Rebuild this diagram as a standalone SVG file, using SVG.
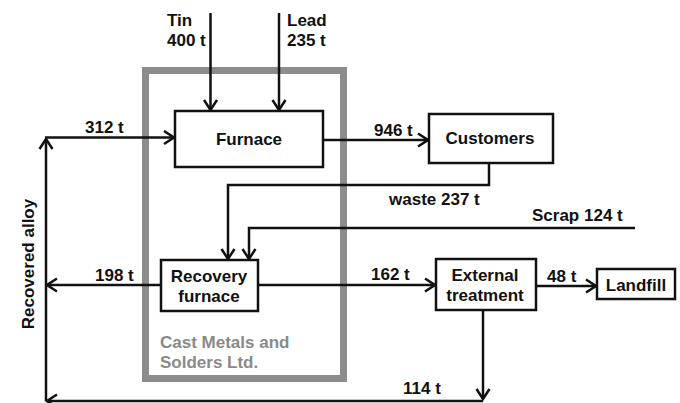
<svg xmlns="http://www.w3.org/2000/svg" width="680" height="403" viewBox="0 0 680 403">
<style>
text{font-family:"Liberation Sans",Arial,sans-serif;font-weight:bold;font-size:17px;fill:#111}
.box{fill:#fff;stroke:#111;stroke-width:2.5}
.ln{fill:none;stroke:#111;stroke-width:2.5}
.mid{text-anchor:middle}
.gray{fill:#8a8a8a}
</style>
<defs>
<marker id="arr" markerUnits="userSpaceOnUse" viewBox="0 0 14 16" markerWidth="14" markerHeight="16" refX="12" refY="8" orient="auto">
<path d="M2,1.5 L12,8 L2,14.5" fill="none" stroke="#111" stroke-width="2.5"/>
</marker>
</defs>
<rect width="680" height="403" fill="#fff"/>
<g id="company">
<rect x="145.5" y="70.5" width="198" height="308" fill="none" stroke="#8c8c8c" stroke-width="7"/>
<text class="gray" x="160" y="348">Cast Metals and</text>
<text class="gray" x="160" y="367.5">Solders Ltd.</text>
</g>
<g id="connectors">
<path class="ln" d="M210.5,13 V110" marker-end="url(#arr)"/>
<path class="ln" d="M279,13 V110" marker-end="url(#arr)"/>
<path class="ln" d="M323,140 H428" marker-end="url(#arr)"/>
<path class="ln" d="M489,163 V185 H228 V259" marker-end="url(#arr)"/>
<path class="ln" d="M635,228 H249 V259" marker-end="url(#arr)"/>
<path class="ln" d="M258,285 H435" marker-end="url(#arr)"/>
<path class="ln" d="M161,285 H47" marker-end="url(#arr)"/>
<path class="ln" d="M536,286 H596" marker-end="url(#arr)"/>
<path class="ln" d="M483,310 V399" marker-end="url(#arr)"/>
<path class="ln" d="M483,401 H47" marker-end="url(#arr)"/>
<path class="ln" d="M46,401 V139" marker-end="url(#arr)"/>
<path class="ln" d="M45,137.5 H174" marker-end="url(#arr)"/>
</g>
<g id="labels">
<text x="167" y="26">Tin</text>
<text x="167" y="46">400 t</text>
<text x="287" y="26">Lead</text>
<text x="287" y="46">235 t</text>
<text x="85" y="133">312 t</text>
<text x="374" y="136">946 t</text>
<text x="389" y="205">waste 237 t</text>
<text x="532" y="221">Scrap 124 t</text>
<text x="95" y="280.5">198 t</text>
<text x="371" y="280">162 t</text>
<text x="547" y="281.5">48 t</text>
<text x="403" y="394">114 t</text>
<text class="mid" transform="translate(34,264) rotate(-90)">Recovered alloy</text>
</g>
<g id="furnace">
<rect class="box" x="175" y="111" width="148" height="56"/>
<text class="mid" x="249" y="145">Furnace</text>
</g>
<g id="customers">
<rect class="box" x="429" y="114" width="124" height="49"/>
<text class="mid" x="490" y="144">Customers</text>
</g>
<g id="recovery">
<rect class="box" x="161" y="260" width="97" height="51"/>
<text class="mid" x="209" y="282">Recovery</text>
<text class="mid" x="209" y="302">furnace</text>
</g>
<g id="external">
<rect class="box" x="436" y="259" width="100" height="51"/>
<text class="mid" x="485" y="281">External</text>
<text class="mid" x="485" y="301">treatment</text>
</g>
<g id="landfill">
<rect class="box" x="597" y="269" width="78" height="30"/>
<text class="mid" x="636" y="290.5">Landfill</text>
</g>
</svg>
